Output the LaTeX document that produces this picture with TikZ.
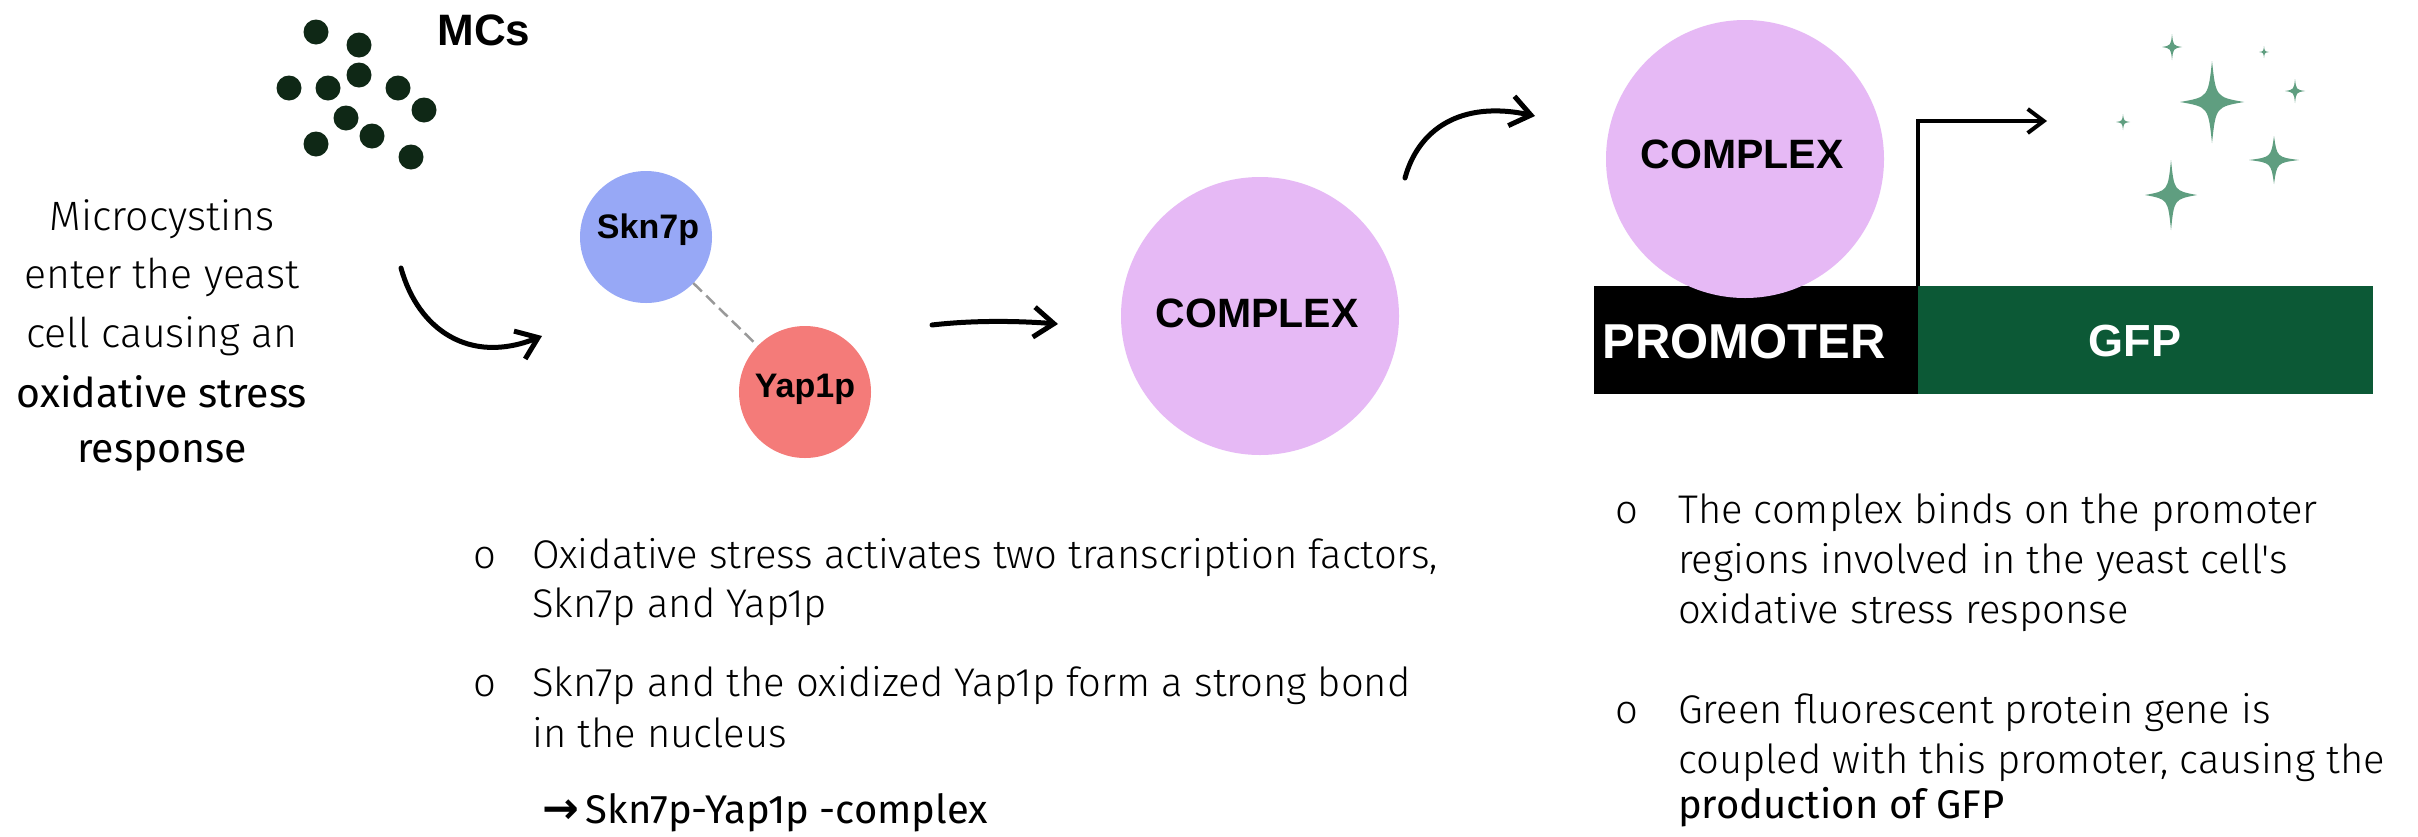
\documentclass[tikz,border=0pt]{standalone}
\usepackage{fontspec}
\usetikzlibrary{arrows.meta}
\newfontfamily\lightf{Fira Sans Light}
\newfontfamily\regf{Fira Sans}
\newfontfamily\arialf{Liberation Sans}
\newfontfamily\dvf{DejaVu Sans}
\definecolor{dotc}{HTML}{0F2816}
\definecolor{sknc}{HTML}{97A8F6}
\definecolor{yapc}{HTML}{F47B79}
\definecolor{cmpc}{HTML}{E6B9F5}
\definecolor{gfpc}{HTML}{0C5936}
\definecolor{sparkc}{HTML}{5F9E80}
\newcommand\sparkle[4]{%
 \fill[sparkc] (#1,#2-#4) .. controls (#1+0.12*#3,#2-0.12*#4) .. (#1+#3,#2)
   .. controls (#1+0.12*#3,#2+0.12*#4) .. (#1,#2+#4)
   .. controls (#1-0.12*#3,#2+0.12*#4) .. (#1-#3,#2)
   .. controls (#1-0.12*#3,#2-0.12*#4) .. cycle;}
\tikzset{
  lt/.style={font=\lightf\fontsize{41}{44}\selectfont, inner sep=0, anchor=base},
  rg/.style={font=\regf\fontsize{41}{44}\selectfont, inner sep=0, anchor=base},
  blt/.style={font=\lightf\fontsize{40}{44}\selectfont, inner sep=0, anchor=base west},
  brg/.style={font=\regf\fontsize{40}{44}\selectfont, inner sep=0, anchor=base west},
  bul/.style={font=\lightf\fontsize{40}{44}\selectfont, inner sep=0, anchor=base},
  bold/.style={font=\arialf\bfseries\fontsize{#1}{#1}\selectfont, inner sep=0, anchor=base},
  circ/.style={circle, inner sep=0, outer sep=0, minimum size=#1},
  arr/.style={line width=5pt, line cap=round, -{Straight Barb[length=20pt,width=30pt]}},
}
\begin{document}
\begin{tikzpicture}[x=1pt,y=-1pt]
\fill[white] (0,0) rectangle (2418,836);
\useasboundingbox (0,0) rectangle (2418,836);
% microcystin dots
\foreach \p in {(316,32),(359,45),(359,75),(289,88),(328,88),(398,88),(424,110),(346,118),(372,136),(316,144),(411,157)}
  \fill[dotc] \p circle[radius=12.5pt];
\node[bold=44] (mcs) at (484,45) {MCs};
% left text
\node[lt] (l1) at (162,230) {Microcystins};
\node[lt] (l2) at (162,288) {enter the yeast};
\node[lt] (l3) at (162,347) {cell causing an};
\node[rg] (l4) at (162,407) {oxidative stress};
\node[rg] (l5) at (162,462) {response};
% curved arrow 1
\coordinate (a1s) at (401,268);
\coordinate (a1e) at (542,336);
\draw[arr] (a1s) .. controls (418,330) and (470,365) .. (a1e);
% Skn7p / Yap1p
\node[circ=132pt, fill=sknc] (skn) at (646,237) {};
\node[circ=132pt, fill=yapc] (yap) at (805,392) {};
\draw[gray!80, line width=2.5pt, dash pattern=on 12pt off 6pt] (skn) -- (yap);
\node[bold=34] (sknt) at (648,238) {Skn7p};
\node[bold=34] (yapt) at (805,397) {Yap1p};
% straight arrow
\coordinate (a2s) at (932,325);
\coordinate (a2e) at (1058,324);
\draw[arr] (a2s) .. controls (975,320) and (1020,321) .. (a2e);
% complex 1
\node[circ=278pt, fill=cmpc] (cx1) at (1260,316) {};
\node[bold=41] (cx1t) at (1257,327) {COMPLEX};
% curved arrow 2
\coordinate (a3s) at (1405,178);
\coordinate (a3e) at (1535,116);
\draw[arr] (a3s) .. controls (1418,130) and (1460,100) .. (a3e);
% promoter and gfp
\node[fill=black, inner sep=0, outer sep=0, minimum width=326pt, minimum height=108pt, anchor=north west] (prom) at (1594,286) {};
\node[fill=gfpc, inner sep=0, outer sep=0, minimum width=455pt, minimum height=108pt, anchor=north west] (gfp) at (1918,286) {};
\node[circ=278pt, fill=cmpc] (cx2) at (1745,159) {};
\node[bold=41] (cx2t) at (1742,168) {COMPLEX};
\node[bold=49, text=white] (promt) at (1744,358) {PROMOTER};
\node[bold=45, text=white] (gfpt) at (2135,356) {GFP};
\coordinate (a4e) at (2047,121);
\draw[line width=4pt, -{Straight Barb[length=16pt,width=24pt]}] ([xshift=-2pt]prom.north east) |- (a4e);
% sparkles
\sparkle{2172}{47}{10}{13}
\sparkle{2264}{52}{5}{6}
\sparkle{2212}{102}{32}{41}
\sparkle{2295}{91}{10}{12}
\sparkle{2123}{122}{7}{8}
\sparkle{2274}{160}{25}{24}
\sparkle{2171}{195}{26}{35}
% middle bullets
\node[bul] (b1) at (485,568) {o};
\node[blt] (m1) at (532,568) {Oxidative stress activates two transcription factors,};
\node[blt] (m2) at (532,617) {Skn7p and Yap1p};
\node[bul] (b2) at (485,696) {o};
\node[blt] (m3) at (532,696) {Skn7p and the oxidized Yap1p form a strong bond};
\node[blt] (m4) at (532,747) {in the nucleus};
\node[brg] (m5) at (542,823) {{\dvf\bfseries\fontsize{44}{44}\selectfont →}\,Skn7p-Yap1p -complex};
% right bullets
\node[bul] (b3) at (1627,523) {o};
\node[blt] (r1) at (1678,523) {The complex binds on the promoter};
\node[blt] (r2) at (1678,573) {regions involved in the yeast cell's};
\node[blt] (r3) at (1678,623) {oxidative stress response};
\node[bul] (b4) at (1627,723) {o};
\node[blt] (r4) at (1678,723) {Green fluorescent protein gene is};
\node[blt] (r5) at (1678,773) {coupled with this promoter, causing the};
\node[brg] (r6) at (1678,818) {production of GFP};
\end{tikzpicture}
\end{document}
